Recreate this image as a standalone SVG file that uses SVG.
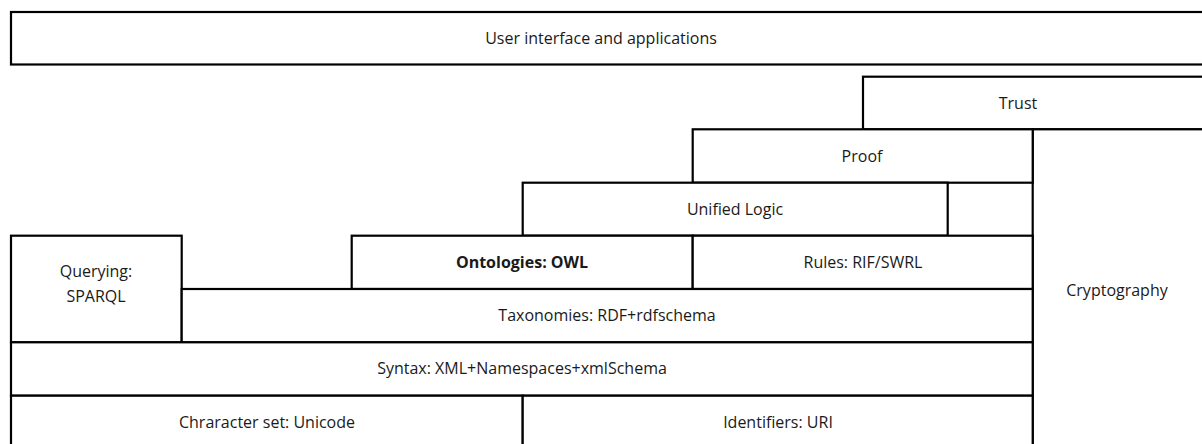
<svg xmlns="http://www.w3.org/2000/svg" width="1202" height="444" viewBox="0 0 1202 444">
  <style>
    .box { fill: #ffffff; stroke: #000000; stroke-width: 2.2; }
    .lbl { font-family: "Open Sans", "Liberation Sans", sans-serif; font-size: 16px; fill: #1a1a1a; text-anchor: middle; dominant-baseline: central; }
    .bold { font-weight: bold; }
  </style>
  <rect width="1202" height="444" fill="#ffffff"/>

  <!-- semantic web layer cake, drawn top to bottom -->
  <g id="user-interface">
    <rect class="box" x="11" y="12" width="1200" height="52.5"/>
    <text class="lbl" x="601" y="38">User interface and applications</text>
  </g>
  <g id="trust">
    <rect class="box" x="863" y="76.7" width="350" height="52.6"/>
    <text class="lbl" x="1018" y="103">Trust</text>
  </g>
  <g id="cryptography">
    <rect class="box" x="1032.7" y="129.3" width="180" height="330"/>
    <text class="lbl" x="1117" y="290">Cryptography</text>
  </g>
  <g id="proof">
    <rect class="box" x="692.7" y="129.3" width="340" height="53.4"/>
    <text class="lbl" x="862" y="156">Proof</text>
  </g>
  <g id="unified-logic">
    <rect class="box" x="522.7" y="182.7" width="425" height="53"/>
    <text class="lbl" x="735" y="209">Unified Logic</text>
  </g>
  <g id="ontologies">
    <rect class="box" x="351.7" y="235.7" width="341" height="53.3"/>
    <text class="lbl bold" x="522" y="262">Ontologies: OWL</text>
  </g>
  <g id="rules">
    <rect class="box" x="692.7" y="235.7" width="340" height="53.3"/>
    <text class="lbl" x="863" y="262">Rules: RIF/SWRL</text>
  </g>
  <g id="querying">
    <rect class="box" x="11" y="235.7" width="170.7" height="106.6"/>
    <text class="lbl" x="96" y="271">Querying:</text>
    <text class="lbl" x="96" y="296">SPARQL</text>
  </g>
  <g id="taxonomies">
    <rect class="box" x="181.7" y="289" width="851" height="53.3"/>
    <text class="lbl" x="607" y="315">Taxonomies: RDF+rdfschema</text>
  </g>
  <g id="syntax">
    <rect class="box" x="11" y="342.3" width="1021.7" height="53.4"/>
    <text class="lbl" x="522" y="368">Syntax: XML+Namespaces+xmlSchema</text>
  </g>
  <g id="character-set">
    <rect class="box" x="11" y="395.7" width="511.7" height="60"/>
    <text class="lbl" x="267" y="422">Chraracter set: Unicode</text>
  </g>
  <g id="identifiers">
    <rect class="box" x="522.7" y="395.7" width="510" height="60"/>
    <text class="lbl" x="778" y="422">Identifiers: URI</text>
  </g>

  <!-- stacked layers touch directly; no separate connectors -->
  <g id="connectors"/>
</svg>
